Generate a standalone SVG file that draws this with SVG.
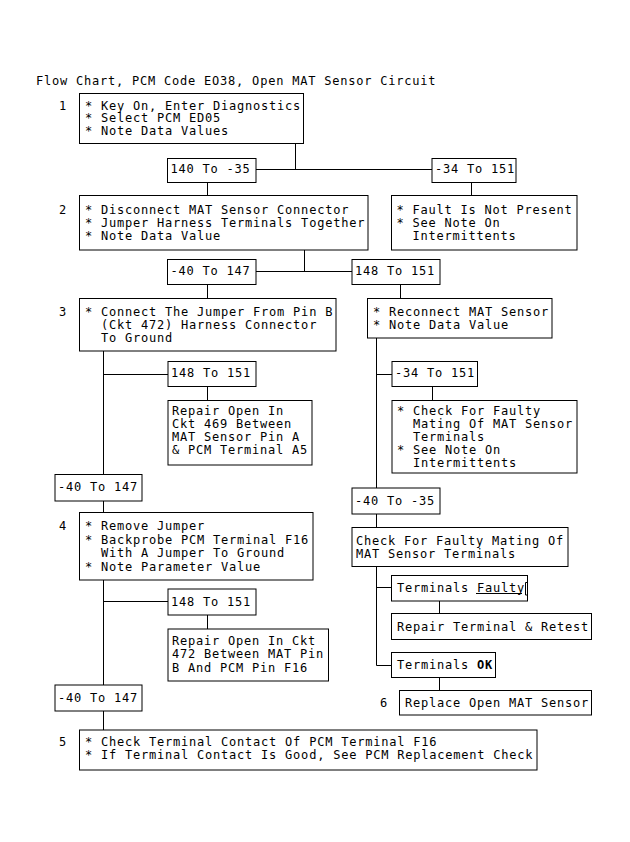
<svg xmlns="http://www.w3.org/2000/svg" width="630" height="842" viewBox="0 0 630 842" xml:space="preserve">
<style>
text{font-family:"DejaVu Sans Mono","Liberation Mono",monospace;font-size:12px;letter-spacing:0.78px;fill:#000;white-space:pre}
rect{fill:#fff;stroke:#000;stroke-width:1}
.c{fill:none;stroke:#000;stroke-width:1}
</style>
<rect x="0" y="0" width="630" height="842" style="stroke:none"/>
<text x="36" y="84.5">Flow Chart, PCM Code EO38, Open MAT Sensor Circuit</text>
<g id="connectors" class="c">
<path class="c" d="M295.5,143.5V169.5M256,169.5H432M207.5,182.5V195M471.5,182.5V195"/>
<path class="c" d="M304.5,250V271.5M256,271.5H352M207.5,284.5V298M400.5,284.5V298"/>
<path class="c" d="M103.5,351V474M103.5,374.5H168M207.5,386.5V400"/>
<path class="c" d="M376.5,338V488M376.5,374.5H392M432.5,386.5V400"/>
<path class="c" d="M103.5,501V512.5M376.5,514V527.5"/>
<path class="c" d="M376.5,566.5V665.5H392M376.5,587.5H392M439.5,601V613.5M439.5,677.5V690.5"/>
<path class="c" d="M103.5,580V685M103.5,601.5H168M207.5,615V629M103.5,711V730"/>
</g>
<g id="n1"><rect x="79.5" y="93.5" width="224" height="50"/>
<text x="59" y="109.5">1</text>
<text x="85" y="109.5">* Key On, Enter Diagnostics</text>
<text x="85" y="122">* Select PCM ED05</text>
<text x="85" y="134.5">* Note Data Values</text></g>
<g id="l1a"><rect x="167.5" y="158.5" width="88.5" height="24"/><text x="170.5" y="173">140 To -35</text></g>
<g id="l1b"><rect x="432" y="158.5" width="84" height="24"/><text x="435" y="173">-34 To 151</text></g>
<g id="n2"><rect x="79.5" y="195.5" width="288.5" height="54.5"/>
<text x="59" y="213.5">2</text>
<text x="85" y="213.5">* Disconnect MAT Sensor Connector</text>
<text x="85" y="226.5">* Jumper Harness Terminals Together</text>
<text x="85" y="239.5">* Note Data Value</text></g>
<g id="n2b"><rect x="391.5" y="195.5" width="185.5" height="54.5"/>
<text x="396.5" y="213.5">* Fault Is Not Present</text>
<text x="396.5" y="226.5">* See Note On</text>
<text x="396.5" y="239.5">  Intermittents</text></g>
<g id="l2a"><rect x="167.5" y="259.5" width="88.5" height="25"/><text x="170.5" y="275">-40 To 147</text></g>
<g id="l2b"><rect x="352" y="259.5" width="88" height="25"/><text x="355" y="275">148 To 151</text></g>
<g id="n3"><rect x="79.5" y="298.5" width="256.5" height="52.5"/>
<text x="59" y="315.5">3</text>
<text x="85" y="315.5">* Connect The Jumper From Pin B</text>
<text x="85" y="328.5">  (Ckt 472) Harness Connector</text>
<text x="85" y="341.5">  To Ground</text></g>
<g id="n3b"><rect x="367.5" y="298.5" width="184.5" height="39.5"/>
<text x="373" y="315.5">* Reconnect MAT Sensor</text>
<text x="373" y="328.5">* Note Data Value</text></g>
<g id="l3a"><rect x="168" y="361.5" width="88" height="25"/><text x="171" y="377">148 To 151</text></g>
<g id="n3a"><rect x="168" y="400.5" width="144" height="64.5"/>
<text x="172" y="414.5">Repair Open In</text>
<text x="172" y="427.5">Ckt 469 Between</text>
<text x="172" y="440.5">MAT Sensor Pin A</text>
<text x="172" y="453.5">&amp; PCM Terminal A5</text></g>
<g id="l3b"><rect x="392" y="361.5" width="85.5" height="25"/><text x="395" y="377">-34 To 151</text></g>
<g id="n3c"><rect x="392" y="400.5" width="185" height="72.5"/>
<text x="397" y="414.5">* Check For Faulty</text>
<text x="397" y="427.5">  Mating Of MAT Sensor</text>
<text x="397" y="440.5">  Terminals</text>
<text x="397" y="453.5">* See Note On</text>
<text x="397" y="466.5">  Intermittents</text></g>
<g id="l4"><rect x="55" y="474.5" width="87" height="26.5"/><text x="58" y="491">-40 To 147</text></g>
<g id="n4"><rect x="79.5" y="512.5" width="233.5" height="67.5"/>
<text x="59" y="530">4</text>
<text x="85" y="530">* Remove Jumper</text>
<text x="85" y="543.5">* Backprobe PCM Terminal F16</text>
<text x="85" y="557">  With A Jumper To Ground</text>
<text x="85" y="570.5">* Note Parameter Value</text></g>
<g id="l4b"><rect x="352" y="488" width="88" height="26"/><text x="355" y="504.5">-40 To -35</text></g>
<g id="n4b"><rect x="352" y="527.5" width="216" height="39"/>
<text x="356" y="544.5">Check For Faulty Mating Of</text>
<text x="356" y="557.5">MAT Sensor Terminals</text></g>
<g id="l4a"><rect x="168" y="589" width="88" height="26"/><text x="171" y="605.5">148 To 151</text></g>
<g id="n4a"><rect x="168" y="629" width="160.5" height="52"/>
<text x="172" y="644.5">Repair Open In Ckt</text>
<text x="172" y="658">472 Between MAT Pin</text>
<text x="172" y="672">B And PCM Pin F16</text></g>
<g id="lf"><rect x="391.5" y="575.5" width="136" height="25.5"/>
<text x="397" y="591.5">Terminals Faulty</text>
<path class="c" d="M476,593.5H522M527.5,582.5H525.5V595H527.5"/></g>
<g id="nr"><rect x="391.5" y="613.5" width="200" height="26"/>
<text x="397" y="630.5">Repair Terminal &amp; Retest</text></g>
<g id="lok"><rect x="391.5" y="652.5" width="104" height="25"/>
<text x="397" y="669">Terminals <tspan font-weight="bold">OK</tspan></text></g>
<g id="n6"><rect x="399.5" y="690.5" width="192" height="24.5"/>
<text x="380" y="706.5">6</text>
<text x="405" y="706.5">Replace Open MAT Sensor</text></g>
<g id="l5"><rect x="55" y="685" width="87" height="26"/><text x="58" y="702">-40 To 147</text></g>
<g id="n5"><rect x="79.5" y="730" width="457.5" height="40"/>
<text x="59" y="745.5">5</text>
<text x="85" y="745.5">* Check Terminal Contact Of PCM Terminal F16</text>
<text x="85" y="758.5">* If Terminal Contact Is Good, See PCM Replacement Check</text></g>
</svg>
